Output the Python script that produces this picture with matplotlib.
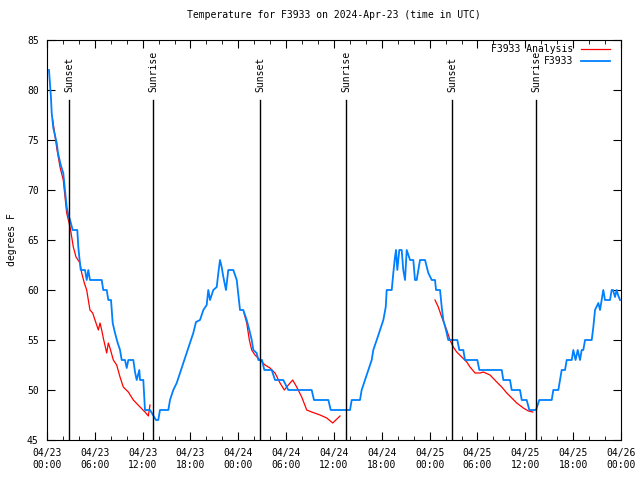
import numpy as np
import matplotlib
matplotlib.use("Agg")
import matplotlib.pyplot as plt
import matplotlib.dates as mdates
from datetime import datetime, timedelta

START = datetime(2024, 4, 23, 0, 0)

# observed station temps (hours since 04/23 00:00 UTC, deg F)
obs_hours = [0.25, 0.5, 0.59, 0.79, 1.22, 1.38, 1.72, 2.04, 2.26, 2.47, 2.67, 2.89, 3.22, 3.80,
             3.93, 4.05, 4.23, 4.77, 4.98, 5.18, 5.39, 6.86, 7.06, 7.49, 7.69, 8.03, 8.24, 8.53,
             8.87, 9.16, 9.37, 9.78, 10.0, 10.2, 10.83, 11.04, 11.25, 11.58, 11.67, 12.08, 12.29,
             12.92, 13.3, 13.67, 13.96, 14.17, 15.22, 15.43, 15.84, 16.27, 16.68, 17.10, 17.52,
             17.94, 18.35, 18.69, 19.19, 19.61, 20.03, 20.23, 20.45, 20.86, 21.29, 21.49, 21.70,
             21.91, 22.12, 22.45, 22.74, 23.37, 23.80, 24.21, 24.62, 25.05, 25.38, 25.68, 25.88,
             26.30, 26.51, 26.97, 27.26, 28.19, 28.60, 29.64, 30.27, 33.20, 33.49, 35.29, 35.59,
             38.01, 38.22, 39.26, 39.47, 39.89, 40.30, 40.73, 40.93, 41.36, 41.77, 42.19, 42.49,
             42.61, 43.24, 43.44, 43.65, 43.78, 43.94, 44.19, 44.49, 44.69, 44.91, 45.12, 45.54,
             45.95, 46.16, 46.37, 46.79, 47.42, 47.83, 48.26, 48.67, 48.80, 49.30, 49.51, 49.71,
             50.05, 50.33, 51.47, 51.72, 52.22, 52.43, 53.98, 54.23, 57.04, 57.24, 58.08, 58.29,
             59.33, 59.55, 60.17, 60.50, 61.34, 61.75, 63.31, 63.51, 64.14, 64.35, 64.56, 64.98,
             65.19, 65.82, 66.02, 66.3, 66.57, 66.86, 67.07, 67.27, 67.49, 68.33, 68.53, 68.74,
             69.16, 69.37, 69.58, 69.78, 69.99, 70.62, 70.83, 71.0, 71.25, 71.46, 71.63, 71.88]
obs_temps = [82, 79.2, 77.7, 76.2, 74.7, 73.7, 72.5, 71.7, 70, 68.3, 67.5, 67, 66, 66,
             64.3, 63.3, 62, 62, 61, 62, 61, 61, 60, 60, 59, 59, 56.7, 55.7,
             54.7, 54, 53, 53, 52.2, 53, 53, 51.8, 51, 52, 51, 51, 48,
             48, 47.5, 47, 47, 48, 48, 49, 50, 50.7, 51.7, 52.7, 53.7,
             54.7, 55.7, 56.8, 57, 58, 58.5, 60, 59, 60, 60.3, 61.7, 63,
             62.3, 61.3, 60, 62, 62, 61, 58, 58, 57, 56, 55, 54,
             53.7, 53, 53, 52, 52, 51, 51, 50, 50, 49, 49, 48,
             48, 49, 49, 50, 51, 52, 53, 54, 55, 56, 57, 58.3,
             60, 60, 61.7, 63.3, 64, 62, 64, 64, 62, 61, 64, 63,
             63, 61, 61, 63, 63, 61.7, 61, 61, 60, 60, 58.3, 57,
             56, 55, 55, 54, 54, 53, 53, 52, 52, 51, 51, 50,
             50, 49, 49, 48, 48, 49, 49, 50, 50, 51, 52, 52,
             53, 53, 54, 53, 54, 53, 54, 54, 55, 55, 56.3, 58,
             58.7, 58, 59, 60, 59, 59, 60, 60, 59.3, 60, 59.5, 59]

# analysis series, nan = gap between runs
ana_hours = [0.72, 1.22, 1.63, 2.04, 2.26, 2.47, 2.89, 3.10, 3.30, 3.64, 4.14, 4.35, 4.68, 4.98,
             5.18, 5.39, 5.73, 6.02, 6.23, 6.44, 6.65, 6.86, 7.06, 7.49, 7.69, 7.90, 8.32, 8.74,
             9.16, 9.57, 10.2, 10.83, 11.67, 12.29, 12.71, 12.92, np.nan,
             24.71, 25.05, 25.38, 25.68, 26.09, 26.72, 27.35, 27.97, 28.60, 29.23, 29.77, 30.27,
             30.82, 31.32, 31.95, 32.58, 33.20, 34.25, 35.09, 35.84, 36.75, np.nan,
             48.67, 49.08, 49.51, 49.80, 50.14, 50.55, 50.96, 51.39, 52.02, 52.65, 53.06, 53.69,
             54.32, 54.73, 55.57, 56.41, 57.04, 57.67, 58.30, 58.92, 59.75, 60.38, 60.93]
ana_temps = [77, 74.2, 72.3, 71, 69.3, 67.7, 66.3, 65.3, 64.3, 63.3, 62.7, 61.7, 60.7, 60,
             59, 58, 57.7, 57, 56.5, 56, 56.7, 56, 55.2, 53.7, 54.7, 54.2, 53, 52.5,
             51.3, 50.3, 49.8, 49, 48.3, 47.8, 47.4, 48.5, np.nan,
             57.7, 56.7, 55, 54, 53.5, 53, 52.5, 52.2, 51.7, 50.7, 50, 50.5,
             51, 50.3, 49.3, 48, 47.8, 47.5, 47.2, 46.7, 47.4, np.nan,
             59, 58.3, 57.3, 56.7, 56, 55, 54.3, 53.8, 53.3, 52.8, 52.3, 51.7,
             51.7, 51.8, 51.5, 50.8, 50.3, 49.7, 49.2, 48.7, 48.2, 47.9, 47.8]

sun_hours = [2.76, 13.3, 26.72, 37.51, 50.8, 61.34]
sun_labels = ["Sunset", "Sunrise", "Sunset", "Sunrise", "Sunset", "Sunrise"]


def hnum(h):
    if np.isnan(h):
        return np.nan
    return mdates.date2num(START + timedelta(hours=h))


plt.rcParams['font.family'] = 'DejaVu Sans Mono'
plt.rcParams['font.size'] = 7

fig = plt.figure(figsize=(6.4, 4.8), dpi=100)
ax = fig.add_axes([47 / 640, 40 / 480, 574 / 640, 400 / 480])

ana_x = [hnum(h) for h in ana_hours]
obs_x = [hnum(h) for h in obs_hours]

l1, = ax.plot(ana_x, ana_temps, color='#ff0000', lw=0.9, label='F3933 Analysis')
l2, = ax.plot(obs_x, obs_temps, color='#0080ff', lw=1.3, label='F3933')

for h, lab in zip(sun_hours, sun_labels):
    xd = hnum(h)
    ax.plot([xd, xd], [45, 79], color='black', lw=1.0)
    ax.text(xd, 79.8, lab, rotation=90, ha='center', va='bottom', fontsize=7)

ax.set_xlim(hnum(0), hnum(72))
ax.set_ylim(45, 85)
ax.xaxis.set_major_locator(mdates.HourLocator(byhour=[0, 6, 12, 18]))
ax.xaxis.set_minor_locator(mdates.HourLocator(byhour=range(0, 24, 2)))
ax.xaxis.set_major_formatter(mdates.DateFormatter('%m/%d\n%H:%M'))
ax.set_yticks(range(45, 90, 5))
ax.tick_params(which='both', direction='in', top=True, right=True, labelsize=7)
ax.tick_params(which='major', length=6)
ax.tick_params(which='minor', length=3)
ax.tick_params(axis='x', pad=6)
ax.tick_params(axis='y', pad=6)

ax.set_ylabel('degrees F', fontsize=7, labelpad=7)
ax.set_title('Temperature for F3933 on 2024-Apr-23 (time in UTC)', fontsize=7, pad=16)

ax.legend(handles=[l1, l2], loc='upper right', frameon=False, markerfirst=False,
          handlelength=3.0, handletextpad=0.8, borderpad=0, borderaxespad=0,
          labelspacing=0.25, fontsize=7, bbox_to_anchor=(0.981, 0.99))

fig.savefig('out.png', dpi=100)
